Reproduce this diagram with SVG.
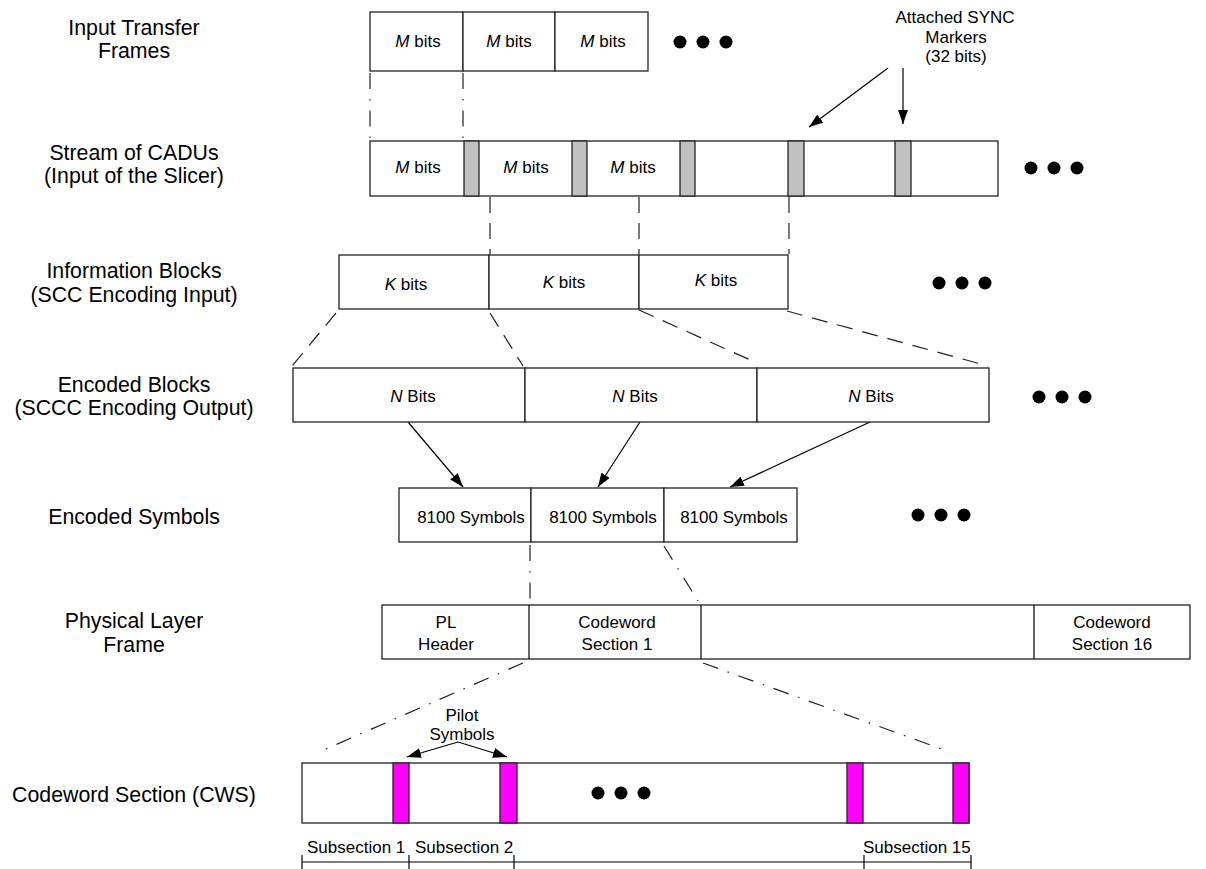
<svg xmlns="http://www.w3.org/2000/svg" width="1206" height="869" viewBox="0 0 1206 869">
<defs>
<marker id="ah" viewBox="0 0 14 10" refX="14" refY="5" markerWidth="14" markerHeight="10" markerUnits="userSpaceOnUse" orient="auto">
<path d="M0,0 L14,5 L0,10 z" fill="#000"/>
</marker>
<style>
.lbl{font-family:"Liberation Sans",Arial,sans-serif;font-size:21.3px;fill:#000;text-anchor:middle}
.t{font-family:"Liberation Sans",Arial,sans-serif;font-size:17px;fill:#000;text-anchor:middle}
.ts{font-family:"Liberation Sans",Arial,sans-serif;font-size:17px;fill:#000}
.box{fill:#fff;stroke:#222;stroke-width:1.3}
.sync{fill:#c0c0c0;stroke:#222;stroke-width:1.3}
.pilot{fill:#ff00ff;stroke:#222;stroke-width:1.3}
.dash{fill:none;stroke:#222;stroke-width:1.2;stroke-dasharray:16 10}
.dd{fill:none;stroke:#222;stroke-width:1.2;stroke-dasharray:16 10 1.5 10}
.arr{fill:none;stroke:#000;stroke-width:1.2;marker-end:url(#ah)}
.line{fill:none;stroke:#000;stroke-width:1.2}
.dot{fill:#000}
</style>
</defs>
<rect width="1206" height="869" fill="#fff"/>

<g id="labels">
<text class="lbl" x="134" y="35">Input Transfer</text>
<text class="lbl" x="134" y="58">Frames</text>
<text class="lbl" x="134" y="160">Stream of CADUs</text>
<text class="lbl" x="134" y="183">(Input of the Slicer)</text>
<text class="lbl" x="134" y="278">Information Blocks</text>
<text class="lbl" x="134" y="302">(SCC Encoding Input)</text>
<text class="lbl" x="134" y="392">Encoded Blocks</text>
<text class="lbl" x="134" y="415">(SCCC Encoding Output)</text>
<text class="lbl" x="134" y="524">Encoded Symbols</text>
<text class="lbl" x="134" y="628">Physical Layer</text>
<text class="lbl" x="134" y="652">Frame</text>
<text class="lbl" x="134" y="802">Codeword Section (CWS)</text>
</g>

<g id="connectors">
<line class="dd" x1="370" y1="73" x2="370" y2="138"/>
<line class="dd" x1="463" y1="73" x2="463" y2="138"/>
<line class="dash" x1="490" y1="197" x2="490" y2="254"/>
<line class="dash" x1="639" y1="197" x2="639" y2="254"/>
<line class="dash" x1="789" y1="197" x2="789" y2="254"/>
<line class="dash" x1="336" y1="313" x2="292" y2="366"/>
<line class="dash" x1="490" y1="313" x2="523" y2="366"/>
<line class="dash" x1="639" y1="310" x2="757" y2="363"/>
<line class="dash" x1="787" y1="311" x2="988" y2="366"/>
<line class="dd" x1="530" y1="545" x2="530" y2="604"/>
<line class="dd" x1="664" y1="546" x2="698" y2="601"/>
<line class="dd" x1="523" y1="663" x2="319" y2="752"/>
<line class="dd" x1="703" y1="663" x2="950" y2="752"/>
<line class="arr" x1="888" y1="68" x2="809" y2="127"/>
<line class="arr" x1="903" y1="68" x2="903" y2="124"/>
<line class="arr" x1="408" y1="422" x2="463" y2="487"/>
<line class="arr" x1="640" y1="422" x2="598" y2="487"/>
<line class="arr" x1="870" y1="422" x2="730" y2="487"/>
<line class="arr" x1="458" y1="742" x2="407" y2="757"/>
<line class="arr" x1="458" y1="742" x2="507" y2="757"/>
</g>

<g id="input-frames">
<rect class="box" x="370" y="12" width="93" height="59"/>
<rect class="box" x="463" y="12" width="92" height="59"/>
<rect class="box" x="555" y="12" width="93" height="59"/>
<text class="t" x="418" y="47"><tspan font-style="italic">M</tspan> bits</text>
<text class="t" x="509" y="47"><tspan font-style="italic">M</tspan> bits</text>
<text class="t" x="603" y="47"><tspan font-style="italic">M</tspan> bits</text>
<circle class="dot" cx="680" cy="42" r="6.5"/>
<circle class="dot" cx="703" cy="42" r="6.5"/>
<circle class="dot" cx="726" cy="42" r="6.5"/>
</g>

<g id="sync-label">
<text class="t" x="955" y="23">Attached SYNC</text>
<text class="t" x="956" y="43">Markers</text>
<text class="t" x="956" y="62">(32 bits)</text>
</g>

<g id="cadus">
<rect class="box" x="370" y="141" width="628" height="55"/>
<rect class="sync" x="464" y="141" width="15" height="55"/>
<rect class="sync" x="572" y="141" width="15" height="55"/>
<rect class="sync" x="680" y="141" width="15" height="55"/>
<rect class="sync" x="788" y="141" width="16" height="55"/>
<rect class="sync" x="895" y="141" width="16" height="55"/>
<text class="t" x="418" y="173"><tspan font-style="italic">M</tspan> bits</text>
<text class="t" x="526" y="173"><tspan font-style="italic">M</tspan> bits</text>
<text class="t" x="633" y="173"><tspan font-style="italic">M</tspan> bits</text>
<circle class="dot" cx="1031" cy="168" r="6.5"/>
<circle class="dot" cx="1054" cy="168" r="6.5"/>
<circle class="dot" cx="1077" cy="168" r="6.5"/>
</g>

<g id="info-blocks">
<rect class="box" x="339" y="255" width="150" height="54"/>
<rect class="box" x="489" y="255" width="150" height="54"/>
<rect class="box" x="639" y="255" width="149" height="54"/>
<text class="t" x="406" y="290"><tspan font-style="italic">K</tspan> bits</text>
<text class="t" x="564" y="288"><tspan font-style="italic">K</tspan> bits</text>
<text class="t" x="716" y="286"><tspan font-style="italic">K</tspan> bits</text>
<circle class="dot" cx="939" cy="283" r="6.5"/>
<circle class="dot" cx="962" cy="283" r="6.5"/>
<circle class="dot" cx="985" cy="283" r="6.5"/>
</g>

<g id="encoded-blocks">
<rect class="box" x="293" y="368" width="232" height="54"/>
<rect class="box" x="525" y="368" width="232" height="54"/>
<rect class="box" x="757" y="368" width="232" height="54"/>
<text class="t" x="413" y="402"><tspan font-style="italic">N</tspan> Bits</text>
<text class="t" x="635" y="402"><tspan font-style="italic">N</tspan> Bits</text>
<text class="t" x="871" y="402"><tspan font-style="italic">N</tspan> Bits</text>
<circle class="dot" cx="1039" cy="397" r="6.5"/>
<circle class="dot" cx="1062" cy="397" r="6.5"/>
<circle class="dot" cx="1085" cy="397" r="6.5"/>
</g>

<g id="encoded-symbols">
<rect class="box" x="399" y="488" width="132" height="54"/>
<rect class="box" x="531" y="488" width="133" height="54"/>
<rect class="box" x="664" y="488" width="133" height="54"/>
<text class="t" x="471" y="523">8100 Symbols</text>
<text class="t" x="603" y="523">8100 Symbols</text>
<text class="t" x="734" y="523">8100 Symbols</text>
<circle class="dot" cx="918" cy="515" r="6.5"/>
<circle class="dot" cx="941" cy="515" r="6.5"/>
<circle class="dot" cx="964" cy="515" r="6.5"/>
</g>

<g id="pl-frame">
<rect class="box" x="382" y="605" width="808" height="54"/>
<line class="line" x1="529" y1="605" x2="529" y2="659"/>
<line class="line" x1="701" y1="605" x2="701" y2="659"/>
<line class="line" x1="1034" y1="605" x2="1034" y2="659"/>
<text class="t" x="446" y="628">PL</text>
<text class="t" x="446" y="650">Header</text>
<text class="t" x="617" y="628">Codeword</text>
<text class="t" x="617" y="650">Section 1</text>
<text class="t" x="1112" y="628">Codeword</text>
<text class="t" x="1112" y="650">Section 16</text>
</g>

<g id="pilot-label">
<text class="t" x="462" y="721">Pilot</text>
<text class="t" x="462" y="740">Symbols</text>
</g>

<g id="cws">
<rect class="box" x="302" y="763" width="667" height="60"/>
<rect class="pilot" x="393" y="763" width="16" height="60"/>
<rect class="pilot" x="500" y="763" width="17" height="60"/>
<rect class="pilot" x="847" y="763" width="16" height="60"/>
<rect class="pilot" x="953" y="763" width="16" height="60"/>
<circle class="dot" cx="598" cy="793" r="6.5"/>
<circle class="dot" cx="621" cy="793" r="6.5"/>
<circle class="dot" cx="644" cy="793" r="6.5"/>
</g>

<g id="subsections">
<line class="line" x1="302" y1="862" x2="971" y2="862"/>
<line class="line" x1="302" y1="855" x2="302" y2="869"/>
<line class="line" x1="409" y1="855" x2="409" y2="869"/>
<line class="line" x1="514" y1="855" x2="514" y2="869"/>
<line class="line" x1="864" y1="855" x2="864" y2="869"/>
<line class="line" x1="971" y1="855" x2="971" y2="869"/>
<text class="ts" x="307" y="853">Subsection 1</text>
<text class="ts" x="415" y="853">Subsection 2</text>
<text class="ts" x="863" y="853">Subsection 15</text>
</g>
</svg>
